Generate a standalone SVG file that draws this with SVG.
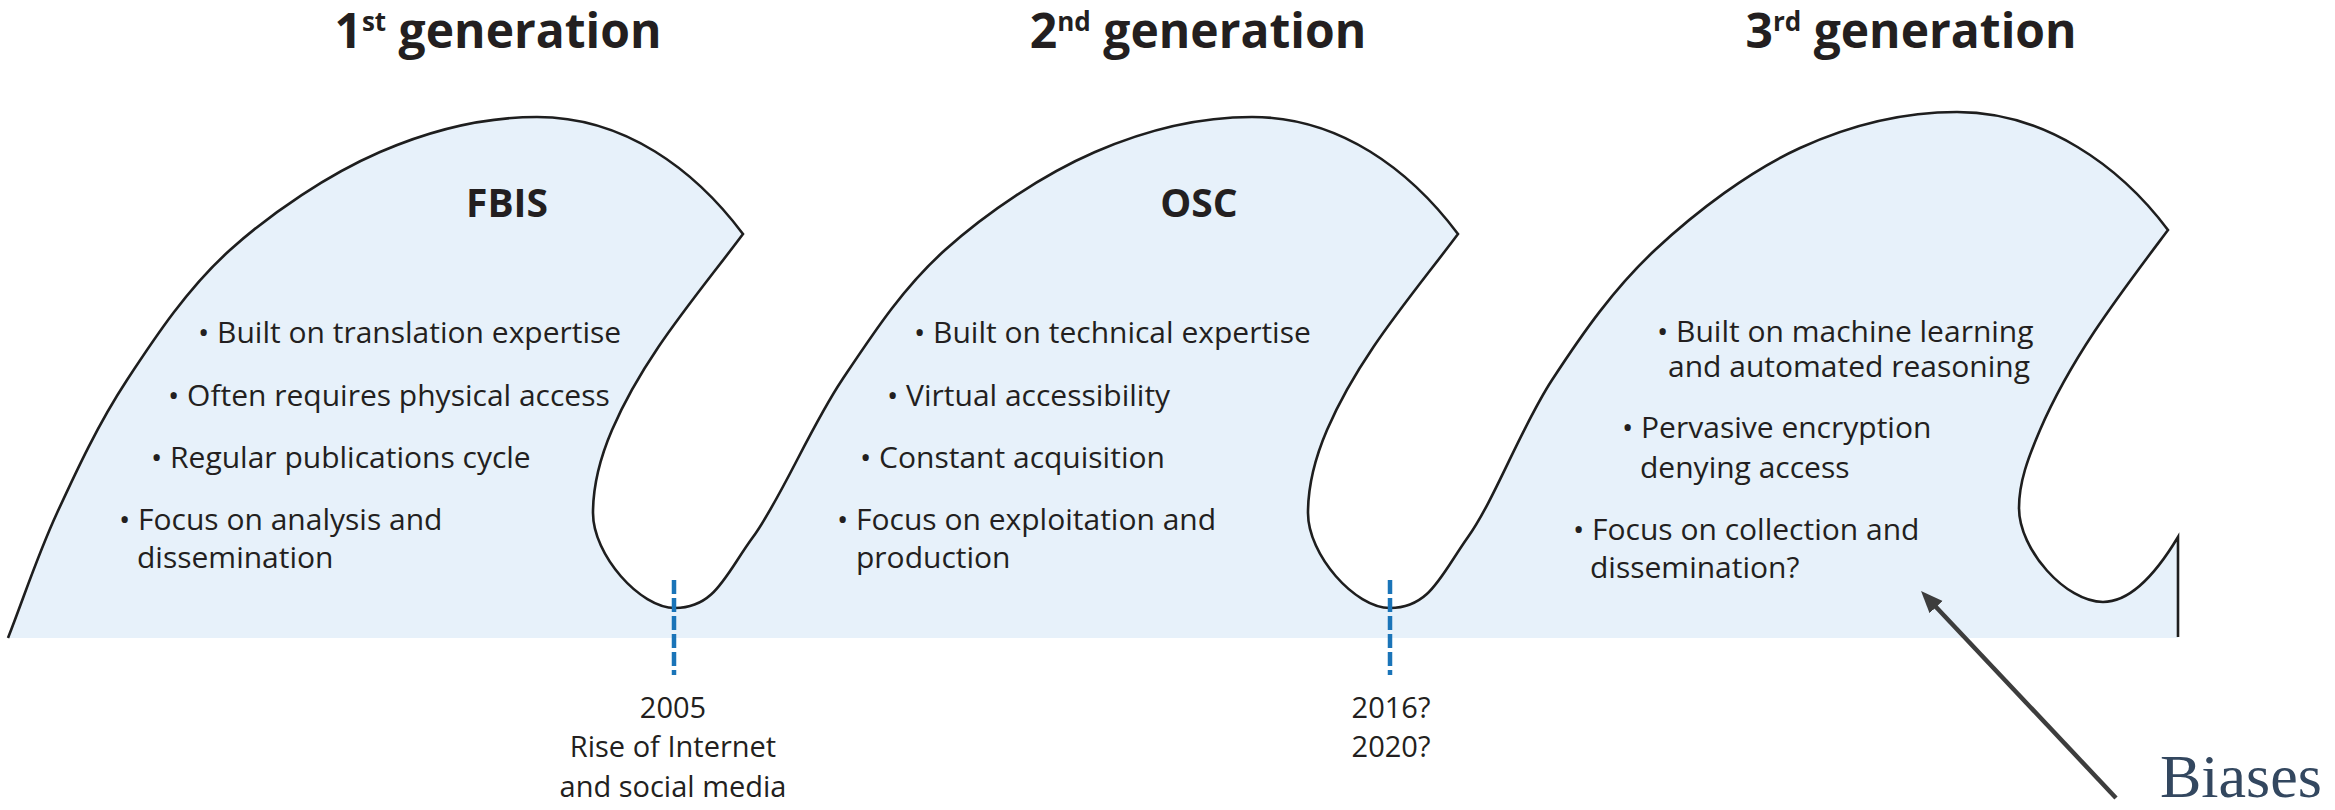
<svg xmlns="http://www.w3.org/2000/svg" width="2335" height="810" viewBox="0 0 2335 810">
<defs>
<style>
.title{font-family:"Open Sans","Liberation Sans",sans-serif;font-weight:700;font-size:48px;fill:#231f20;text-anchor:middle}
.sup{font-size:26px}
.org{font-family:"Open Sans","Liberation Sans",sans-serif;font-weight:700;font-size:39px;fill:#231f20;text-anchor:middle}
.b{font-family:"Open Sans","Liberation Sans",sans-serif;font-size:30px;fill:#231f20}
.date{font-family:"Open Sans","Liberation Sans",sans-serif;font-size:29px;fill:#231f20;text-anchor:middle}
.biases{font-family:"Liberation Serif",serif;font-size:62px;fill:#33475f}
.wave-fill{fill:#e7f1fa;stroke:none}
.wave-line{fill:none;stroke:#1e1e1e;stroke-width:2.6;stroke-linejoin:miter}
.tick{stroke:#1a74b8;stroke-width:4.5;stroke-dasharray:14 4;fill:none}
.arrow{stroke:#3d3d3d;stroke-width:4.5;fill:none}
</style>
<marker id="ah" markerUnits="userSpaceOnUse" markerWidth="24" markerHeight="20" refX="6" refY="9" orient="auto">
<path d="M0,0 L22,9 L0,18 Z" fill="#3d3d3d"/>
</marker>
<path id="outline" d="M 8 638 C 24.3 596.3, 37.2 556, 57 513 C 76.8 470, 98.2 423.8, 127 380 C 155.8 336.2, 187.8 288, 230 250 C 272.2 212, 328.8 174.2, 380 152 C 431.2 129.8, 484 117, 537 117 C 625 117, 695 170, 743 234 C 695 298, 644 356, 612 430 C 600 458, 593 485, 593 513 C 593 555, 640 608, 675 608 C 715 608, 725.2 575, 753 537 C 780.8 499, 810 427.8, 842 380 C 874 332.2, 902.8 288, 945 250 C 987.2 212, 1043.8 174.2, 1095 152 C 1146.2 129.8, 1199 117, 1252 117 C 1340 117, 1410 170, 1458 234 C 1410 298, 1359 356, 1327 430 C 1315 458, 1308 485, 1308 513 C 1308 555, 1355 608, 1390 608 C 1430 608, 1441 575, 1468 537 C 1495 499, 1520.8 427.8, 1552 380 C 1583.2 332.2, 1613.7 288.7, 1655 250 C 1696.3 211.3, 1749.7 171, 1800 148 C 1850.3 125, 1905 112, 1957 112 C 2045 112, 2120 166, 2168 230 C 2120 294, 2072 356, 2040 430 C 2028 458, 2019 482, 2019 508 C 2019 550, 2066 602, 2103 602 C 2135 602, 2163 562, 2178 537 L 2178 637"/>
</defs>

<g id="waves">
<path class="wave-fill" d="M 8 638 C 24.3 596.3, 37.2 556, 57 513 C 76.8 470, 98.2 423.8, 127 380 C 155.8 336.2, 187.8 288, 230 250 C 272.2 212, 328.8 174.2, 380 152 C 431.2 129.8, 484 117, 537 117 C 625 117, 695 170, 743 234 C 695 298, 644 356, 612 430 C 600 458, 593 485, 593 513 C 593 555, 640 608, 675 608 C 715 608, 725.2 575, 753 537 C 780.8 499, 810 427.8, 842 380 C 874 332.2, 902.8 288, 945 250 C 987.2 212, 1043.8 174.2, 1095 152 C 1146.2 129.8, 1199 117, 1252 117 C 1340 117, 1410 170, 1458 234 C 1410 298, 1359 356, 1327 430 C 1315 458, 1308 485, 1308 513 C 1308 555, 1355 608, 1390 608 C 1430 608, 1441 575, 1468 537 C 1495 499, 1520.8 427.8, 1552 380 C 1583.2 332.2, 1613.7 288.7, 1655 250 C 1696.3 211.3, 1749.7 171, 1800 148 C 1850.3 125, 1905 112, 1957 112 C 2045 112, 2120 166, 2168 230 C 2120 294, 2072 356, 2040 430 C 2028 458, 2019 482, 2019 508 C 2019 550, 2066 602, 2103 602 C 2135 602, 2163 562, 2178 537 L 2178 638 L 8 638 Z"/>
<use href="#outline" class="wave-line"/>
</g>

<g id="gen1">
<text class="title" x="498" y="48">1<tspan class="sup" dy="-17">st</tspan><tspan dy="17"> generation</tspan></text>
<text class="org" x="507" y="217">FBIS</text>
<text class="b" x="198" y="343">• Built on translation expertise</text>
<text class="b" x="168" y="406">• Often requires physical access</text>
<text class="b" x="151" y="468">• Regular publications cycle</text>
<text class="b" x="119" y="530">• Focus on analysis and</text>
<text class="b" x="137" y="568">dissemination</text>
</g>

<g id="gen2">
<text class="title" x="1198" y="48">2<tspan class="sup" dy="-17">nd</tspan><tspan dy="17"> generation</tspan></text>
<text class="org" x="1199" y="217">OSC</text>
<text class="b" x="914" y="343">• Built on technical expertise</text>
<text class="b" x="887" y="406">• Virtual accessibility</text>
<text class="b" x="860" y="468">• Constant acquisition</text>
<text class="b" x="837" y="530">• Focus on exploitation and</text>
<text class="b" x="856" y="568">production</text>
</g>

<g id="gen3">
<text class="title" x="1911" y="48">3<tspan class="sup" dy="-17">rd</tspan><tspan dy="17"> generation</tspan></text>
<text class="b" x="1657" y="342">• Built on machine learning</text>
<text class="b" x="1668" y="377">and automated reasoning</text>
<text class="b" x="1622" y="438">• Pervasive encryption</text>
<text class="b" x="1640" y="478">denying access</text>
<text class="b" x="1573" y="540">• Focus on collection and</text>
<text class="b" x="1590" y="578">dissemination?</text>
</g>

<g id="date-2005">
<line class="tick" x1="674" y1="580" x2="674" y2="675"/>
<text class="date" x="673" y="718">2005</text>
<text class="date" x="673" y="757">Rise of Internet</text>
<text class="date" x="673" y="797">and social media</text>
</g>

<g id="date-2016">
<line class="tick" x1="1390" y1="580" x2="1390" y2="675"/>
<text class="date" x="1391" y="718">2016?</text>
<text class="date" x="1391" y="757">2020?</text>
</g>

<g id="biases">
<text class="biases" x="2160" y="797">Biases</text>
</g>

<g id="connectors">
<line class="arrow" x1="2116" y1="798" x2="1932" y2="602.7" marker-end="url(#ah)"/>
</g>
</svg>
